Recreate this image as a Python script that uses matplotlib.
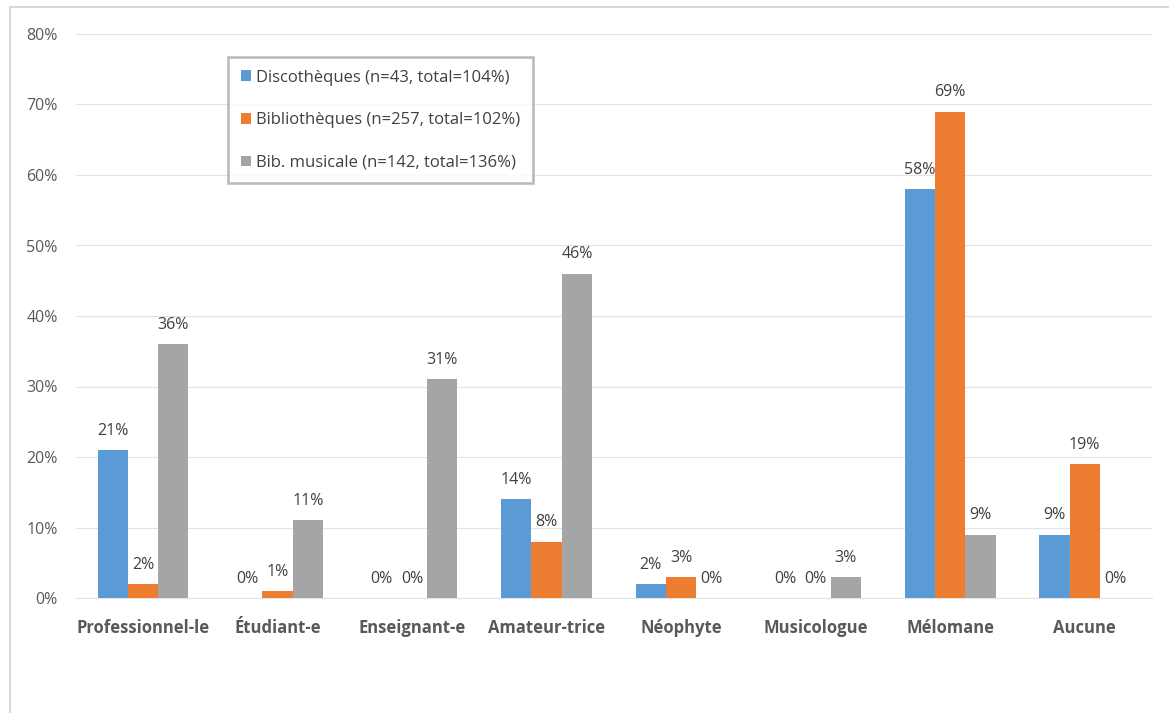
import matplotlib
matplotlib.use("Agg")
import matplotlib.pyplot as plt
from matplotlib.lines import Line2D
import numpy as np

categories = ["Professionnel-le", "Étudiant-e", "Enseignant-e", "Amateur-trice",
              "Néophyte", "Musicologue", "Mélomane", "Aucune"]
discotheques = [21, 0, 0, 14, 2, 0, 58, 9]
bibliotheques = [2, 1, 0, 8, 3, 0, 69, 19]
bib_musicale = [36, 11, 31, 46, 0, 3, 9, 0]
series_names = ["Discothèques (n=43, total=104%)",
                "Bibliothèques (n=257, total=102%)",
                "Bib. musicale (n=142, total=136%)"]
colors = ["#5B9BD5", "#ED7D31", "#A5A5A5"]
yticks = [0, 10, 20, 30, 40, 50, 60, 70, 80]

plt.rcParams['font.family'] = ['Open Sans', 'DejaVu Sans']

fig = plt.figure(figsize=(11.69, 7.13), dpi=100)
W, H = 1169, 713
ax = fig.add_axes([75.7 / W, 1 - 598 / H, (1152 - 75.7) / W, (598 - 34) / H])

x = np.arange(len(categories))
bw = 0.225
all_series = [discotheques, bibliotheques, bib_musicale]
for i, (vals, name, c) in enumerate(zip(all_series, series_names, colors)):
    pos = x + (i - 1) * bw
    ax.bar(pos, vals, width=bw, color=c, label=name, zorder=3)
    for p, v in zip(pos, vals):
        ax.text(p, v + 1.6, f"{v}%", ha="center", va="bottom", fontsize=11.5,
                color="#404040", zorder=4)

ax.set_xlim(-0.5, len(categories) - 0.5)
ax.set_ylim(0, 80)
ax.set_yticks(yticks)
ax.set_yticklabels([f"{t}%" for t in yticks], fontsize=11.5, color="#595959")
ax.set_xticks(x)
ax.set_xticklabels(categories, fontsize=12, fontweight="bold", color="#595959")
ax.tick_params(axis="both", length=0)
ax.tick_params(axis="x", pad=15)
ax.tick_params(axis="y", pad=13)
ax.grid(axis="y", color="#E3E3E3", linewidth=0.8, zorder=0)
for s in ["top", "right", "left"]:
    ax.spines[s].set_visible(False)
ax.spines["bottom"].set_color("#E3E3E3")

leg = ax.legend(loc="upper left", bbox_to_anchor=(228 / W, 1 - 57 / H),
                bbox_transform=fig.transFigure, fontsize=12, frameon=True,
                fancybox=False, edgecolor="#A6A6A6", labelspacing=1.6,
                handlelength=0.6, handleheight=0.6, handletextpad=0.35,
                borderpad=0.75, borderaxespad=0, labelcolor="#404040")
leg.get_frame().set_linewidth(1.8)

# outer frame lines
fig.add_artist(Line2D([10 / W, 10 / W], [0, 1 - 7 / H], transform=fig.transFigure,
                      color="#D9D9D9", linewidth=1.5))
fig.add_artist(Line2D([10 / W, 1], [1 - 7 / H, 1 - 7 / H], transform=fig.transFigure,
                      color="#D9D9D9", linewidth=1.5))

fig.savefig("out.png", dpi=100, facecolor="white")
